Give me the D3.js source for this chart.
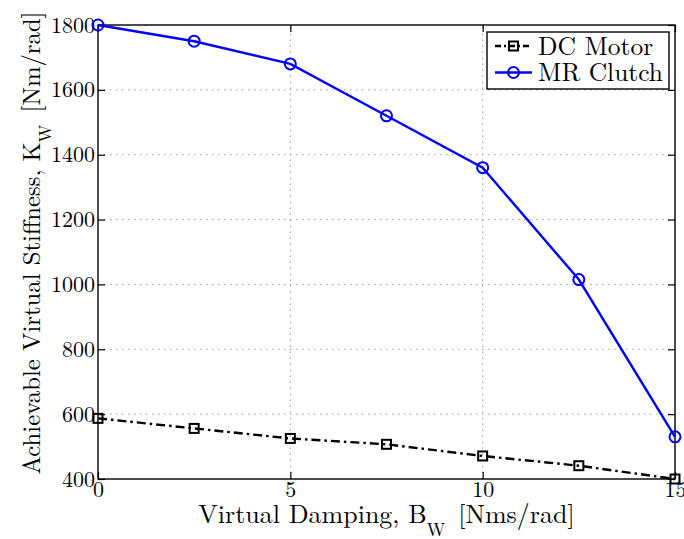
<!DOCTYPE html>
<html>
<head>
<meta charset="utf-8">
<script src="https://cdn.jsdelivr.net/npm/d3@7"></script>
<style>
  html, body { margin: 0; padding: 0; background: #fff; }
  svg { display: block; }
</style>
</head>
<body>
<svg id="chart" width="684" height="539"></svg>
<script>
// Virtual damping B_W [Nms/rad] sampled along the x axis
const damping = [0, 2.5, 5, 7.5, 10, 12.5, 15];
// Achievable virtual stiffness K_W [Nm/rad] for each actuator
const dcMotor = [587, 556, 525, 507, 471, 441, 400];
const mrClutch = [1800, 1750, 1680, 1520, 1360, 1015, 530];
// Axis ticks
const xTicks = [0, 5, 10, 15];
const yTicks = [400, 600, 800, 1000, 1200, 1400, 1600, 1800];
const seriesNames = ["DC Motor", "MR Clutch"];

const FONT = "Latin Modern Roman";

const svg = d3.select("#chart");
const width = 684, height = 539;
const margin = { left: 98, right: 9, top: 25, bottom: 60 };
const x0 = margin.left, x1 = width - margin.right;
const y0 = height - margin.bottom, y1 = margin.top;

const x = d3.scaleLinear().domain([0, 15]).range([x0, x1]);
const y = d3.scaleLinear().domain([400, 1800]).range([y0, y1]);

svg.append("rect").attr("width", width).attr("height", height).attr("fill", "#fff");

// dotted grid
const grid = svg.append("g")
  .attr("stroke", "#9a9a9a")
  .attr("stroke-width", 1)
  .attr("stroke-dasharray", "1.5,4.5");
grid.selectAll("line.gx")
  .data(xTicks.filter(t => t > 0 && t < 15))
  .join("line").attr("class", "gx")
  .attr("x1", d => x(d)).attr("x2", d => x(d))
  .attr("y1", y0).attr("y2", y1);
grid.selectAll("line.gy")
  .data(yTicks.filter(t => t > 400 && t < 1800))
  .join("line").attr("class", "gy")
  .attr("x1", x0).attr("x2", x1)
  .attr("y1", d => y(d)).attr("y2", d => y(d));

// axes with inward ticks on all four sides
function styleAxis(g) {
  g.attr("font-family", FONT);
  g.select(".domain").remove();
  g.selectAll(".tick line").attr("stroke", "#000").attr("stroke-width", 1.2);
  g.selectAll(".tick text")
    .attr("fill", "#000")
    .attr("font-family", FONT)
    .attr("font-size", 22);
}
svg.append("g").attr("transform", `translate(0,${y0})`)
  .call(d3.axisBottom(x).tickValues(xTicks).tickSizeInner(-7).tickSizeOuter(0).tickPadding(2.5).tickFormat(d3.format("d")))
  .call(styleAxis);
svg.append("g").attr("transform", `translate(0,${y1})`)
  .call(d3.axisTop(x).tickValues(xTicks).tickSizeInner(-7).tickSizeOuter(0).tickFormat(""))
  .call(styleAxis);
svg.append("g").attr("transform", `translate(${x0},0)`)
  .call(d3.axisLeft(y).tickValues(yTicks).tickSizeInner(-7).tickSizeOuter(0).tickPadding(3).tickFormat(d3.format("d")))
  .call(styleAxis);
svg.append("g").attr("transform", `translate(${x1},0)`)
  .call(d3.axisRight(y).tickValues(yTicks).tickSizeInner(-7).tickSizeOuter(0).tickFormat(""))
  .call(styleAxis);

// plot frame
svg.append("rect")
  .attr("x", x0).attr("y", y1)
  .attr("width", x1 - x0).attr("height", y0 - y1)
  .attr("fill", "none").attr("stroke", "#000").attr("stroke-width", 1.4);

const line = d3.line().x((d, i) => x(damping[i])).y(d => y(d));

// DC motor: black dash-dot with square markers
svg.append("path").datum(dcMotor)
  .attr("d", line).attr("fill", "none")
  .attr("stroke", "#000").attr("stroke-width", 2.4)
  .attr("stroke-dasharray", "9,4,2.5,4");
svg.append("g").selectAll("rect")
  .data(dcMotor).join("rect")
  .attr("x", (d, i) => x(damping[i]) - 4.5).attr("y", d => y(d) - 4.5)
  .attr("width", 9).attr("height", 9)
  .attr("fill", "none").attr("stroke", "#000").attr("stroke-width", 2);

// MR clutch: solid blue with circle markers
svg.append("path").datum(mrClutch)
  .attr("d", line).attr("fill", "none")
  .attr("stroke", "#0000ff").attr("stroke-width", 2.4);
svg.append("g").selectAll("circle")
  .data(mrClutch).join("circle")
  .attr("cx", (d, i) => x(damping[i])).attr("cy", d => y(d))
  .attr("r", 5.5)
  .attr("fill", "none").attr("stroke", "#0000ff").attr("stroke-width", 2);

// axis labels with subscripts
function label(tx, ty, rot, size, parts) {
  const t = svg.append("text")
    .attr("transform", `translate(${tx},${ty}) rotate(${rot})`)
    .attr("text-anchor", "middle")
    .attr("fill", "#000")
    .attr("font-family", FONT)
    .attr("font-size", size);
  parts.forEach(p => {
    const s = t.append("tspan").attr("dy", p.dy || 0).text(p.text);
    if (p.size) s.attr("font-size", p.size);
  });
  return t;
}
label((x0 + x1) / 2, 523, 0, 26, [
  { text: "Virtual Damping, B" },
  { text: "W", size: 18, dy: 13 },
  { text: "\u00a0[Nms/rad]", dy: -13 }
]);
label(40, (y0 + y1) / 2 - 9, -90, 24.7, [
  { text: "Achievable Virtual Stiffness, K" },
  { text: "W", size: 17, dy: 11 },
  { text: "\u00a0[Nm/rad]", dy: -11 }
]);

// legend
const legend = svg.append("g");
legend.append("rect")
  .attr("x", 487).attr("y", 32).attr("width", 182).attr("height", 57)
  .attr("fill", "#fff").attr("stroke", "#000").attr("stroke-width", 1.4);
const rows = [
  { name: seriesNames[0], color: "#000", dash: "6,3,2,3", marker: "square", ly: 46, ty: 55 },
  { name: seriesNames[1], color: "#0000ff", dash: null, marker: "circle", ly: 72.5, ty: 81 }
];
rows.forEach(r => {
  legend.append("line")
    .attr("x1", 495).attr("x2", 532).attr("y1", r.ly).attr("y2", r.ly)
    .attr("stroke", r.color).attr("stroke-width", 2.4)
    .attr("stroke-dasharray", r.dash);
  if (r.marker === "square") {
    legend.append("rect")
      .attr("x", 513.5 - 4.5).attr("y", r.ly - 4.5).attr("width", 9).attr("height", 9)
      .attr("fill", "none").attr("stroke", r.color).attr("stroke-width", 2);
  } else {
    legend.append("circle")
      .attr("cx", 513.5).attr("cy", r.ly).attr("r", 5.5)
      .attr("fill", "none").attr("stroke", r.color).attr("stroke-width", 2);
  }
  legend.append("text")
    .attr("x", 538).attr("y", r.ty)
    .attr("fill", "#000")
    .attr("font-family", FONT)
    .attr("font-size", 25.5)
    .text(r.name);
});
</script>
</body>
</html>
